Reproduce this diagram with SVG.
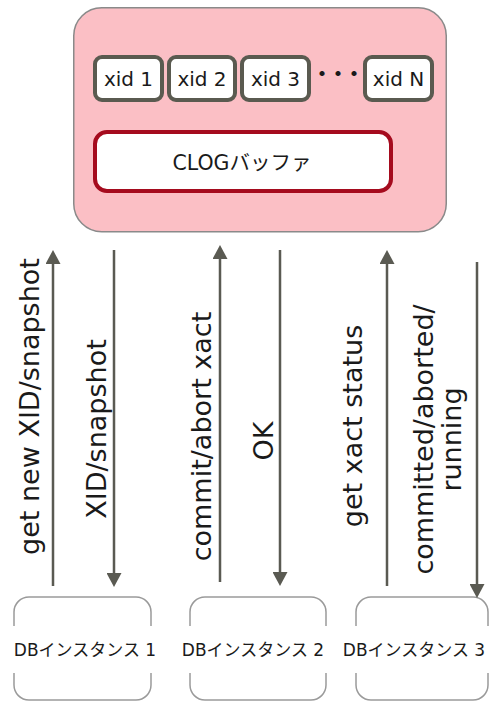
<svg xmlns="http://www.w3.org/2000/svg" width="491" height="702" viewBox="0 0 491 702">
<style>
  .t { font-family: "DejaVu Sans", "Noto Sans CJK JP", sans-serif; fill: #1a1a1a; }
  .lbl { font-size: 27px; text-anchor: middle; }
  .xid { fill: #ffffff; stroke: #5a5a50; stroke-width: 4; }
  .xt { font-size: 20px; text-anchor: middle; }
  .db { fill: none; stroke: #9a9a9a; stroke-width: 1.5; }
  .dbt { font-size: 17px; text-anchor: middle; }
  .arr { stroke: #5a5a52; stroke-width: 2.5; fill: none; marker-end: url(#ah); }
</style>
<defs>
  <marker id="ah" markerUnits="userSpaceOnUse" viewBox="0 -7.5 14 15" refX="0" refY="0" markerWidth="14" markerHeight="15" orient="auto">
    <path d="M0,-7.5 L14,0 L0,7.5 Z" fill="#5a5a52"/>
  </marker>
</defs>

<g id="server">
  <rect x="73.75" y="7.75" width="372.5" height="224" rx="28" fill="#fbbfc5" stroke="#8a8a8a" stroke-width="1.5"/>
</g>
<g id="xid1">
  <rect class="xid" x="95" y="57" width="67" height="43" rx="7"/>
  <text class="t xt" x="128.5" y="86">xid 1</text>
</g>
<g id="xid2">
  <rect class="xid" x="169" y="57" width="66" height="43" rx="7"/>
  <text class="t xt" x="202" y="86">xid 2</text>
</g>
<g id="xid3">
  <rect class="xid" x="242" y="57" width="67" height="43" rx="7"/>
  <text class="t xt" x="275.5" y="86">xid 3</text>
</g>
<g id="dots">
  <text class="t" x="336" y="81" font-size="20" font-weight="bold" letter-spacing="-4" text-anchor="middle">・・・</text>
</g>
<g id="xidN">
  <rect class="xid" x="365" y="57" width="67" height="43" rx="7"/>
  <text class="t xt" x="398.5" y="86">xid N</text>
</g>
<g id="clog">
  <rect x="95" y="132" width="296" height="59" rx="12" fill="#ffffff" stroke="#a50b1e" stroke-width="4"/>
  <text class="t" x="242" y="170" font-size="20.5" text-anchor="middle">CLOGバッファ</text>
</g>

<g id="db1">
  <path class="db" d="M14,626 V612 A15,15 0 0 1 29,597 H136 A15,15 0 0 1 151,612 V626 M151,673 V685 A15,15 0 0 1 136,700 H29 A15,15 0 0 1 14,685 V673"/>
  <text class="t dbt" x="85" y="656">DBインスタンス 1</text>
</g>
<g id="db2">
  <path class="db" d="M190,626 V612 A15,15 0 0 1 205,597 H311 A15,15 0 0 1 326,612 V626 M326,673 V685 A15,15 0 0 1 311,700 H205 A15,15 0 0 1 190,685 V673"/>
  <text class="t dbt" x="253" y="656">DBインスタンス 2</text>
</g>
<g id="db3">
  <path class="db" d="M356,626 V612 A15,15 0 0 1 371,597 H473 A15,15 0 0 1 488,612 V626 M488,673 V685 A15,15 0 0 1 473,700 H371 A15,15 0 0 1 356,685 V673"/>
  <text class="t dbt" x="414" y="656">DBインスタンス 3</text>
</g>

<g id="connectors">
  <line class="arr" x1="53" y1="586" x2="53" y2="264"/>
  <line class="arr" x1="114" y1="250" x2="114" y2="573"/>
  <line class="arr" x1="220" y1="582" x2="220" y2="259"/>
  <line class="arr" x1="280" y1="250" x2="280" y2="572"/>
  <line class="arr" x1="387" y1="586" x2="387" y2="264"/>
  <line class="arr" x1="477" y1="262" x2="477" y2="584"/>
  <text class="t lbl" transform="translate(39,406.5) rotate(-90)">get new XID/snapshot</text>
  <text class="t lbl" transform="translate(106,429) rotate(-90)">XID/snapshot</text>
  <text class="t lbl" transform="translate(211,436.5) rotate(-90)">commit/abort xact</text>
  <text class="t lbl" transform="translate(273,441) rotate(-90)">OK</text>
  <text class="t lbl" transform="translate(362,426) rotate(-90)">get xact status</text>
  <text class="t lbl" transform="translate(433,439.5) rotate(-90)"><tspan x="0" y="0">committed/aborted/</tspan><tspan x="0" y="28">running</tspan></text>
</g>
</svg>
